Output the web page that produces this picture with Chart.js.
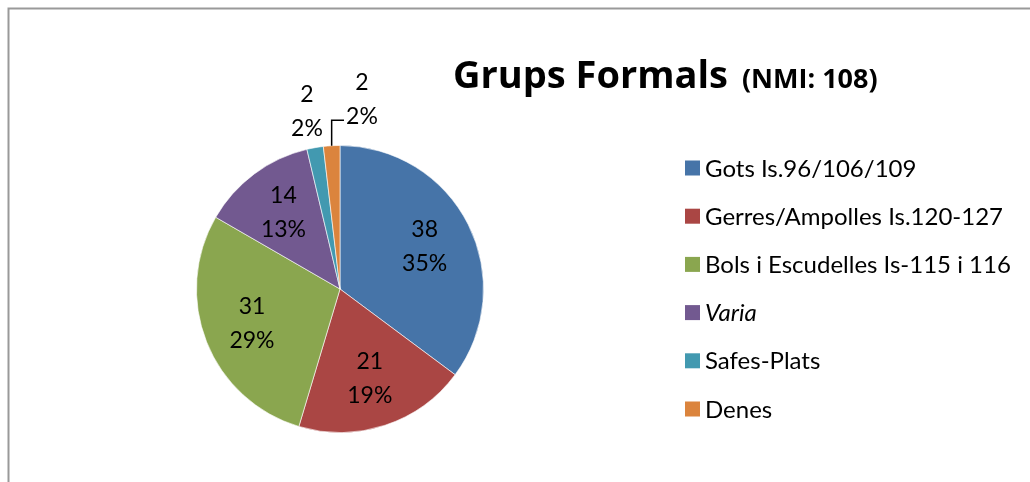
<!DOCTYPE html>
<html>
<head>
<meta charset="utf-8">
<script src="https://cdn.jsdelivr.net/npm/chart.js@4/dist/chart.umd.min.js"></script>
<style>
  html, body { margin: 0; padding: 0; background: #fff; overflow: hidden; }
  #wrap { width: 1030px; height: 482px; position: relative; }
</style>
</head>
<body>
<div id="wrap"><canvas id="chart" width="1030" height="482"></canvas></div>
<script>
const categories = ['Gots Is.96/106/109', 'Gerres/Ampolles Is.120-127', 'Bols i Escudelles Is-115 i 116', 'Varia', 'Safes-Plats', 'Denes'];
const counts = [38, 21, 31, 14, 2, 2];
const colors = ['#4674A8', '#AA4644', '#8AA64F', '#725990', '#4299B0', '#DB843D'];
const italicLabels = ['Varia'];
const titleMain = 'Grups Formals';
const titleSub = '(NMI: 108)';

const FONT = 'Lato, "Open Sans", sans-serif';
const TITLE_FONT = '"Open Sans", Lato, sans-serif';
const ctxEl = document.getElementById('chart');

// frame, labels, title and legend drawn by hand (mixed fonts)
const decor = {
  id: 'decor',
  beforeDraw(chart) {
    const c = chart.ctx;
    c.save();
    c.fillStyle = '#fff';
    c.fillRect(0, 0, chart.width, chart.height);
    c.strokeStyle = '#999';
    c.lineWidth = 2;
    c.beginPath();
    c.moveTo(8.5, chart.height + 5);
    c.lineTo(8.5, 8.5);
    c.lineTo(chart.width + 5, 8.5);
    c.stroke();
    c.restore();
  },
  afterDraw(chart) {
    const c = chart.ctx;
    const meta = chart.getDatasetMeta(0);
    const total = counts.reduce((a, b) => a + b, 0);
    c.save();
    c.fillStyle = '#000';
    c.textAlign = 'center';
    c.textBaseline = 'middle';
    c.font = '23px ' + FONT;
    let lastOut = null;
    meta.data.forEach((arc, i) => {
      const p = arc.getProps(['x', 'y', 'startAngle', 'endAngle', 'outerRadius'], true);
      const mid = (p.startAngle + p.endAngle) / 2;
      const v = counts[i];
      const pct = Math.round(v / total * 100) + '%';
      if (v / total >= 0.05) {
        const r = p.outerRadius * 0.66;
        const lx = p.x + Math.cos(mid) * r;
        const ly = p.y + Math.sin(mid) * r;
        c.fillText(String(v), lx, ly - 17);
        c.fillText(pct, lx, ly + 17);
      } else {
        const r = p.outerRadius + 35;
        let lx = p.x + Math.cos(mid) * r - 2;
        let ly = p.y + Math.sin(mid) * r - 2;
        if (lastOut && Math.abs(lx - lastOut.x) < 45) {
          // too close: push right with a leader line
          const ex = p.x + Math.cos(mid) * p.outerRadius;
          const ey = p.y + Math.sin(mid) * p.outerRadius;
          lx = lastOut.x + 55;
          ly = lastOut.y - 12;
          c.strokeStyle = '#000';
          c.lineWidth = 1.5;
          c.beginPath();
          c.moveTo(ex, ey);
          c.lineTo(ex, ly + 21);
          c.lineTo(lx - 18, ly + 21);
          c.stroke();
        }
        c.fillText(String(v), lx, ly - 17);
        c.fillText(pct, lx, ly + 17);
        lastOut = { x: lx, y: ly };
      }
    });

    // title
    c.textAlign = 'left';
    c.textBaseline = 'alphabetic';
    c.font = 'bold 38px ' + TITLE_FONT;
    c.fillText(titleMain, 453, 88);
    const w = c.measureText(titleMain).width;
    c.font = 'bold 27px ' + TITLE_FONT;
    c.fillText(titleSub, 453 + w + 14, 88);

    // legend
    categories.forEach((name, i) => {
      const cy = 168 + i * 48.2;
      c.fillStyle = colors[i];
      c.fillRect(685, cy - 7.5, 15, 15);
      c.fillStyle = '#000';
      c.font = (italicLabels.includes(name) ? 'italic ' : '') + '24px ' + FONT;
      c.fillText(name, 705, cy + 8.5);
    });
    c.restore();
  }
};

new Chart(ctxEl, {
  type: 'pie',
  data: {
    labels: categories,
    datasets: [{
      data: counts,
      backgroundColor: colors,
      borderColor: 'rgba(255,255,255,0.6)',
      borderWidth: 1
    }]
  },
  options: {
    responsive: false,
    animation: false,
    devicePixelRatio: 1,
    layout: { padding: { left: 196, right: 546, top: 145, bottom: 49 } },
    plugins: {
      legend: { display: false },
      title: { display: false },
      tooltip: { enabled: false }
    }
  },
  plugins: [decor]
});
</script>
</body>
</html>
